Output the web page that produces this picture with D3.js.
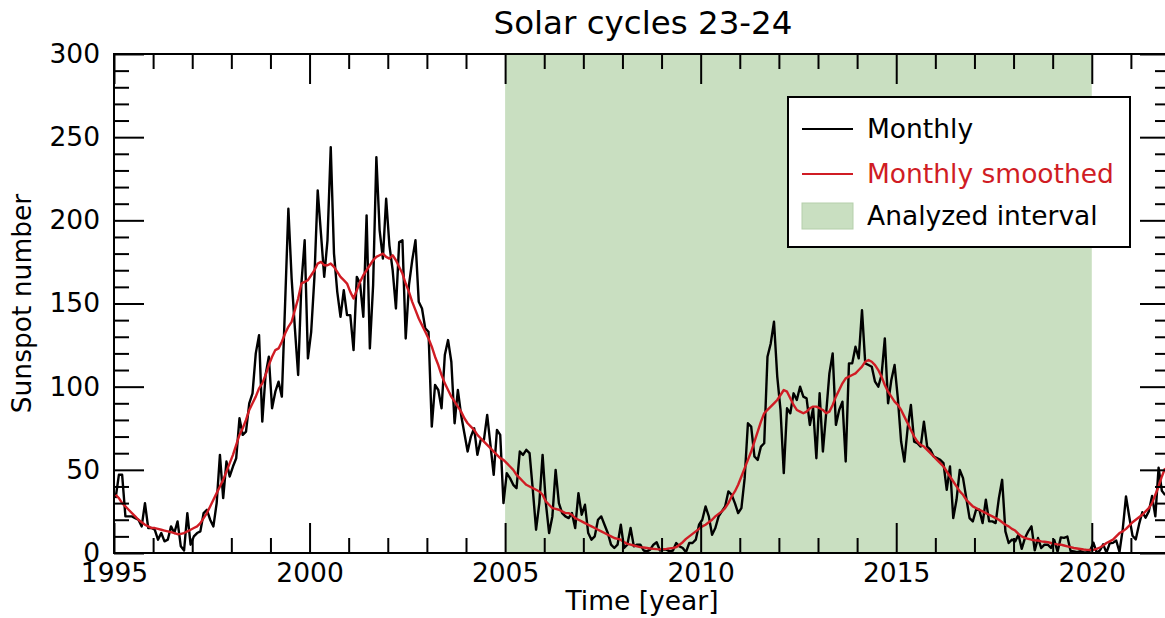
<!DOCTYPE html>
<html>
<head>
<meta charset="utf-8">
<script src="https://cdn.jsdelivr.net/npm/d3@7"></script>
<style>
  body { margin: 0; background: #fff; }
  svg { font-family: "DejaVu Sans", sans-serif; }
</style>
</head>
<body>
<div id="chart"></div>
<script>
// monthly mean sunspot number, Jan 1995 .. Nov 2021
var startYear = 1995;
var monthly = [
  33, 47, 47, 22, 22, 22, 21, 20, 16, 30, 15, 15,
  14, 8, 12, 7, 8, 16, 12, 19, 4, 1.5, 24, 5,
  10, 12, 13, 24, 26, 20, 16, 30, 59, 33, 55, 46,
  52, 57, 81, 71, 73, 90, 96, 120, 131, 79, 107, 118,
  87, 97, 103, 94, 150, 207, 165, 135, 107, 162, 188, 117,
  133, 166, 218, 192, 166, 188, 244, 180, 157, 142, 158, 143,
  143, 122, 166, 162, 142, 203, 123, 161, 238, 194, 177, 213,
  185, 170, 147, 187, 188, 129, 161, 176, 188, 151, 147, 135,
  133, 76, 101, 98, 87, 119, 128, 115, 78, 98, 83, 72,
  61, 70, 75, 59, 68, 68, 83, 65, 47, 74, 71, 30,
  48, 45, 41, 39, 61, 59, 62, 60, 38, 14, 30, 59,
  30, 12, 22, 50, 30, 24, 22, 21, 24, 15, 36, 23,
  29, 12, 8, 10, 20, 22, 17, 12, 5, 3, 5, 17,
  3, 5, 15, 4, 5, 5, 1.5, 1, 2, 5, 6.5, 1.5,
  2, 2, 1, 1.5, 6, 4, 3, 0.5, 6, 6, 8, 17,
  20, 28, 22, 11, 15, 22, 25, 28, 37, 35, 30, 24,
  27, 45, 78, 76, 58, 56, 64, 66, 118, 126, 139, 106,
  86, 48, 87, 84, 96, 92, 100, 94, 93, 77, 87, 57,
  96, 61, 84, 108, 120, 77, 86, 91, 55, 114, 114, 124,
  117, 146, 114, 113, 112, 103, 100, 107, 129, 90, 104, 113,
  93, 67, 55, 75, 89, 67, 66, 64, 79, 64, 62, 58,
  57, 56, 54, 38, 52, 21, 32, 50, 45, 33, 21, 19,
  26, 26, 18, 32, 19, 19, 18, 33, 44, 13, 6, 8,
  7, 11, 2.5, 9, 13, 16, 1.6, 9, 3, 5, 5, 3,
  7.7, 0.8, 9.4, 9.1, 9.9, 1.2, 0.9, 0.5, 1.1, 0.4, 0.5, 1.5,
  6.2, 0.2, 1.5, 5.2, 0.2, 5.8, 6.1, 7.5, 0.6, 14.4, 34.0, 21.8,
  10.4, 8.2, 17.2, 24.5, 21.2, 25.0, 34.3, 22.0, 51.3, 37.4, 34.8
];

// 13-month smoothed, same months
var smoothed = [
  35, 33, 30, 28, 26, 24, 22, 20, 18.5, 17, 16, 15,
  15, 14.5, 14, 13.5, 13, 12.5, 12, 11.3, 11.5, 12, 13, 14,
  15, 16, 18, 21, 24, 28, 32, 36, 40, 44, 49, 54,
  59, 65, 71, 75, 80, 86, 90, 94, 99, 102, 107, 113,
  118, 122, 123, 127, 132, 136, 139, 146, 153, 162, 163, 164,
  167, 170, 174, 175, 173, 173, 174, 172, 169, 166, 164, 162,
  157, 153, 158, 163, 167, 170, 173, 176, 178, 179, 180, 178,
  177, 179, 176, 172, 168, 162, 157, 151, 146, 141, 137, 133,
  129, 124, 118, 113, 107, 102, 98, 94, 91, 88, 85, 81,
  78, 76, 74, 71, 69, 67, 65, 63, 61, 59, 57, 56,
  54, 52, 50, 47, 45, 43, 41, 40, 39, 38, 37, 35,
  31, 29, 27, 26.5, 26, 25, 24, 24, 23, 21, 20, 19,
  18, 17, 16, 15, 14, 13, 12, 11, 10, 9, 8.5, 8,
  6.5, 5.5, 5, 4.5, 4, 3.5, 3.3, 3, 2.7, 2.5, 2.3, 2.2,
  2.3, 2.5, 2.8, 3, 3.5, 5, 6.5, 8.5, 10, 11.5, 13, 14.5,
  16, 17, 18.5, 20, 22, 23.5, 25, 27, 30, 34, 37, 41,
  46, 51, 56, 61, 67, 73, 79, 84, 86, 88, 90, 92,
  95, 98, 97, 93, 89, 86, 85, 84, 85, 87, 88, 88,
  87, 86, 84, 85, 89, 94, 98, 102, 105, 106, 107, 108,
  110, 112, 115, 116, 115, 113, 110, 106, 101, 97, 94, 91,
  89, 86, 82, 78, 74, 70, 67, 65, 64, 62, 60, 58,
  56, 54, 52, 49, 46, 43, 40, 37, 35, 32, 30, 28,
  27, 26, 25, 24, 23, 22, 21, 20, 18.5, 17, 16, 14.5,
  13.5, 11.5, 10, 9, 8.5, 8, 7.7, 7.5, 7, 6.8, 6.5, 6,
  5.5, 5.2, 5, 4.5, 4, 3.5, 3, 2.7, 2.4, 2.1, 1.9, 1.8,
  1.9, 2.5, 3.3, 4.5, 6, 7, 8, 10, 12, 13, 14.5, 16.5,
  18.5, 20, 21.5, 23, 25, 27, 30, 35, 40, 46, 51
];

var interval = [2005, 2020];
var xTicks = [1995, 2000, 2005, 2010, 2015, 2020];
var yTicks = [0, 50, 100, 150, 200, 250, 300];
var legendLabels = ["Monthly", "Monthly smoothed", "Analyzed interval"];

var svgWidth = 1165, svgHeight = 618;
var margin = {top: 54, left: 114};
var width = 1170 - margin.left;
var height = 553 - margin.top;

var black = "#000", red = "#d01c24", green = "#c9dfc1";

var svg = d3.select("#chart").append("svg")
    .attr("width", svgWidth)
    .attr("height", svgHeight);

var chartGroup = svg.append("g")
    .attr("transform", `translate(${margin.left}, ${margin.top})`);

var x = d3.scaleLinear().domain([1995, 2022]).range([0, width]);
var y = d3.scaleLinear().domain([0, 300]).range([height, 0]);

svg.append("defs").append("clipPath").attr("id", "clip")
  .append("rect").attr("width", width).attr("height", height);

// month index -> decimal year
function t(i) { return startYear + (i + 0.5) / 12; }

// analyzed interval
chartGroup.append("rect")
    .attr("x", x(interval[0]))
    .attr("y", 0)
    .attr("width", x(interval[1]) - x(interval[0]))
    .attr("height", height)
    .attr("fill", green);

var lines = chartGroup.append("g").attr("clip-path", "url(#clip)");

var line = d3.line().x((d, i) => x(t(i))).y(d => y(d));

lines.append("path").datum(monthly)
    .attr("d", line)
    .attr("fill", "none")
    .attr("stroke", black)
    .attr("stroke-width", 2.4)
    .attr("stroke-linejoin", "round");

lines.append("path").datum(smoothed)
    .attr("d", line)
    .attr("fill", "none")
    .attr("stroke", red)
    .attr("stroke-width", 2.4)
    .attr("stroke-linejoin", "round");

// axes: major + minor ticks, pointing inward on all four sides
var xMinor = d3.range(1995, 2023, 1).filter(v => v % 5 !== 0);
var yMinor = d3.range(0, 301, 10).filter(v => v % 50 !== 0);

function styleAxis(g) {
  g.select(".domain").remove();
  g.selectAll("line").attr("stroke", black).attr("stroke-width", 2);
  g.selectAll("text").attr("font-size", "26.5px").attr("fill", black)
    .attr("font-family", "DejaVu Sans, sans-serif");
}

chartGroup.append("g").attr("transform", `translate(0, ${height})`)
    .call(d3.axisBottom(x).tickValues(xTicks).tickFormat(d3.format("d"))
      .tickSize(-30).tickPadding(10))
    .call(styleAxis);
chartGroup.append("g").attr("transform", `translate(0, ${height})`)
    .call(d3.axisBottom(x).tickValues(xMinor).tickFormat("").tickSize(-15))
    .call(styleAxis);
chartGroup.append("g")
    .call(d3.axisTop(x).tickValues(xTicks).tickFormat("").tickSize(-30))
    .call(styleAxis);
chartGroup.append("g")
    .call(d3.axisTop(x).tickValues(xMinor).tickFormat("").tickSize(-15))
    .call(styleAxis);

chartGroup.append("g")
    .call(d3.axisLeft(y).tickValues(yTicks).tickSize(-30).tickPadding(14))
    .call(styleAxis);
chartGroup.append("g")
    .call(d3.axisLeft(y).tickValues(yMinor).tickFormat("").tickSize(-15))
    .call(styleAxis);
chartGroup.append("g").attr("transform", `translate(${width}, 0)`)
    .call(d3.axisRight(y).tickValues(yTicks).tickFormat("").tickSize(-30))
    .call(styleAxis);
chartGroup.append("g").attr("transform", `translate(${width}, 0)`)
    .call(d3.axisRight(y).tickValues(yMinor).tickFormat("").tickSize(-15))
    .call(styleAxis);

// frame
chartGroup.append("rect")
    .attr("width", width).attr("height", height)
    .attr("fill", "none").attr("stroke", black).attr("stroke-width", 2);

// title and axis labels
svg.append("text")
    .attr("x", margin.left + width / 2 + 1).attr("y", 34)
    .attr("text-anchor", "middle").attr("font-size", "32.5px")
    .text("Solar cycles 23-24");

svg.append("text")
    .attr("x", margin.left + width / 2).attr("y", 610)
    .attr("text-anchor", "middle").attr("font-size", "26.5px")
    .text("Time [year]");

svg.append("text")
    .attr("transform", `translate(31, ${margin.top + height / 2}) rotate(-90)`)
    .attr("text-anchor", "middle").attr("font-size", "26.5px")
    .text("Sunspot number");

// legend
var legend = svg.append("g").attr("transform", "translate(788, 97)");
legend.append("rect")
    .attr("width", 342).attr("height", 150)
    .attr("fill", "#fff").attr("stroke", black).attr("stroke-width", 2);

var rowY = [32, 77, 119];
legend.append("line").attr("x1", 14).attr("x2", 65).attr("y1", rowY[0]).attr("y2", rowY[0])
    .attr("stroke", black).attr("stroke-width", 2);
legend.append("line").attr("x1", 14).attr("x2", 65).attr("y1", rowY[1]).attr("y2", rowY[1])
    .attr("stroke", red).attr("stroke-width", 2);
legend.append("rect").attr("x", 14).attr("y", rowY[2] - 13).attr("width", 51).attr("height", 26)
    .attr("fill", green).attr("stroke", "#b5cfab").attr("stroke-width", 1);

legend.selectAll("text.lab").data(legendLabels).enter().append("text")
    .attr("class", "lab")
    .attr("x", 79)
    .attr("y", (d, i) => rowY[i] + 9)
    .attr("font-size", "26.5px")
    .attr("fill", (d, i) => i === 1 ? red : black)
    .text(d => d);
</script>
</body>
</html>
